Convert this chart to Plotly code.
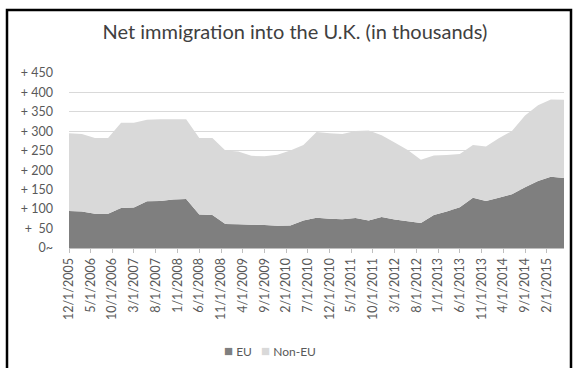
import plotly.graph_objects as go

dates = [
    "2005-12-01", "2006-03-01", "2006-06-01", "2006-09-01", "2006-12-01",
    "2007-03-01", "2007-06-01", "2007-09-01", "2007-12-01", "2008-03-01",
    "2008-06-01", "2008-09-01", "2008-12-01", "2009-03-01", "2009-06-01",
    "2009-09-01", "2009-12-01", "2010-03-01", "2010-06-01", "2010-09-01",
    "2010-12-01", "2011-03-01", "2011-06-01", "2011-09-01", "2011-12-01",
    "2012-03-01", "2012-06-01", "2012-09-01", "2012-12-01", "2013-03-01",
    "2013-06-01", "2013-09-01", "2013-12-01", "2014-03-01", "2014-06-01",
    "2014-09-01", "2014-12-01", "2015-03-01", "2015-06-01",
]
eu = [95, 94, 88, 88, 103, 104, 120, 121, 125, 126, 86, 85, 62, 61, 60,
      59, 57, 58, 71, 78, 75, 74, 77, 71, 80, 73, 69, 64, 85, 94,
      105, 129, 121, 129, 138, 156, 172, 183, 180]
non_eu = [200, 199, 195, 195, 219, 218, 210, 210, 206, 205, 197, 198, 189, 187, 177,
          177, 183, 193, 194, 220, 220, 219, 224, 231, 210, 198, 183, 163, 153, 145,
          137, 136, 140, 153, 163, 185, 195, 199, 201]

x_tick_vals = [
    "2005-12-01", "2006-05-01", "2006-10-01", "2007-03-01", "2007-08-01",
    "2008-01-01", "2008-06-01", "2008-11-01", "2009-04-01", "2009-09-01",
    "2010-02-01", "2010-07-01", "2010-12-01", "2011-05-01", "2011-10-01",
    "2012-03-01", "2012-08-01", "2013-01-01", "2013-06-01", "2013-11-01",
    "2014-04-01", "2014-09-01", "2015-02-01",
]
x_tick_text = [
    "12/1/2005", "5/1/2006", "10/1/2006", "3/1/2007", "8/1/2007",
    "1/1/2008", "6/1/2008", "11/1/2008", "4/1/2009", "9/1/2009",
    "2/1/2010", "7/1/2010", "12/1/2010", "5/1/2011", "10/1/2011",
    "3/1/2012", "8/1/2012", "1/1/2013", "6/1/2013", "11/1/2013",
    "4/1/2014", "9/1/2014", "2/1/2015",
]
y_tick_vals = [0, 50, 100, 150, 200, 250, 300, 350, 400, 450]
y_tick_text = ["0~", "+  50", "+ 100", "+ 150", "+ 200", "+ 250",
               "+ 300", "+ 350", "+ 400", "+ 450"]

series_names = ["EU", "Non-EU"]
series_colors = ["#7f7f7f", "#d9d9d9"]

FONT = "Lato"
TXT = "#595959"

fig = go.Figure()
fig.add_trace(go.Scatter(x=dates, y=eu, name=series_names[0], mode="none",
                         stackgroup="one", fillcolor=series_colors[0],
                         showlegend=False))
fig.add_trace(go.Scatter(x=dates, y=non_eu, name=series_names[1], mode="none",
                         stackgroup="one", fillcolor=series_colors[1],
                         showlegend=False))

L, R, T, B = 69, 12, 73, 120
W, H = 576, 368
pw, ph = W - L - R, H - T - B

def px_x(p):
    return (p - L) / pw

def px_y(p):
    return (H - B - p) / ph

legend_text = "   ".join(
    f'<span style="color:{c};font-size:15px">■</span> {n}'
    for n, c in zip(series_names, series_colors)
)

fig.update_layout(
    width=W, height=H,
    margin=dict(l=L, r=R, t=T, b=B),
    paper_bgcolor="white", plot_bgcolor="white",
    font=dict(family=FONT, color=TXT, size=12),
    title=dict(text="Net immigration into the U.K. (in thousands)",
               x=0.512, xref="container", xanchor="center",
               y=1 - 32 / H, yref="container", yanchor="middle",
               font=dict(family=FONT, size=20, color="#404040")),
    showlegend=False,
    annotations=[dict(text=legend_text, xref="paper", yref="paper",
                      x=px_x(270), y=px_y(350), xanchor="center", yanchor="middle",
                      showarrow=False, font=dict(family=FONT, size=12, color=TXT))],
    xaxis=dict(type="date", range=["2005-12-01", "2015-06-01"],
               tickvals=x_tick_vals, ticktext=x_tick_text, tickangle=-90,
               showgrid=False, showline=True, linecolor="#bfbfbf",
               ticks="outside", ticklen=4, tickcolor="#bfbfbf",
               tickfont=dict(size=12.5, color=TXT), zeroline=False),
    yaxis=dict(range=[0, 450], tickvals=y_tick_vals, ticktext=y_tick_text,
               showgrid=True, gridcolor="#d9d9d9", gridwidth=1,
               zeroline=False, showline=False, ticks="",
               ticklabelstandoff=15,
               tickfont=dict(size=12.5, color=TXT)),
    shapes=[dict(type="rect", xref="paper", yref="paper",
                 x0=px_x(7), x1=px_x(571), y0=px_y(380), y1=px_y(10),
                 line=dict(color="black", width=2.5), fillcolor="rgba(0,0,0,0)",
                 layer="above")],
)

fig.write_html("out.html")
